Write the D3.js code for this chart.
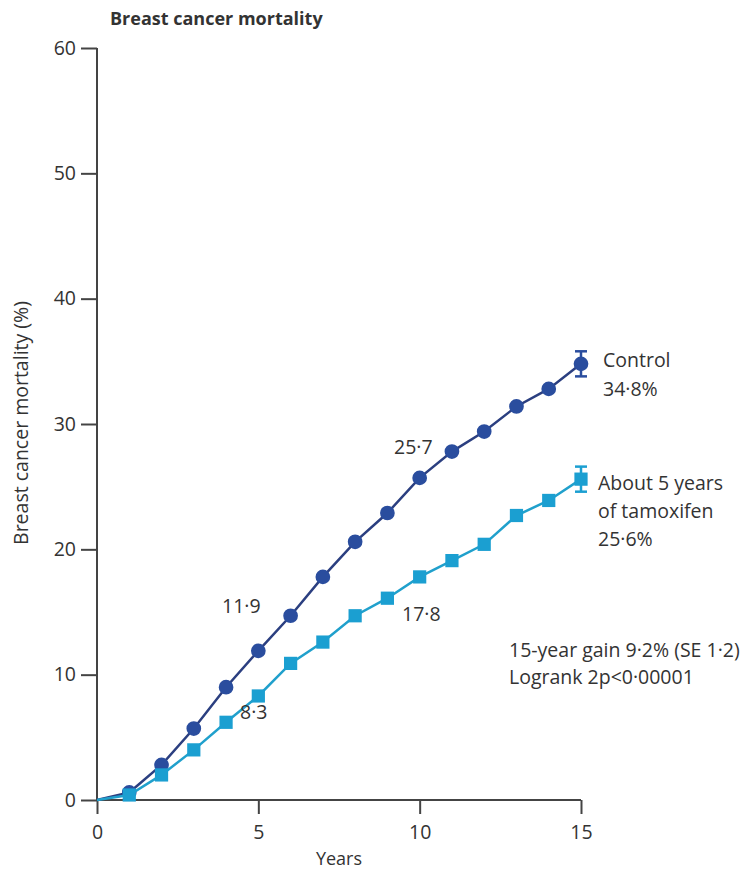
<!DOCTYPE html>
<html>
<head>
    <script type="text/javascript" src="https://d3js.org/d3.v7.min.js"></script>
    <style>
        body { margin: 0; background: #ffffff; }
        text { font-family: "Open Sans", "Noto Sans", sans-serif; fill: #333; }
    </style>
</head>
<body>
    <svg width="751" height="870"></svg>
    <script>
        // values (cumulative % by year)
        const years = d3.range(0, 16);
        const control = [0, 0.6, 2.8, 5.7, 9.0, 11.9, 14.7, 17.8, 20.6, 22.9, 25.7, 27.8, 29.4, 31.4, 32.8, 34.8];
        const tamoxifen = [0, 0.4, 2.0, 4.0, 6.2, 8.3, 10.9, 12.6, 14.7, 16.1, 17.8, 19.1, 20.4, 22.7, 23.9, 25.6];
        const controlSE = 1.0;
        const tamoxifenSE = 1.0;
        const xTicks = [0, 5, 10, 15];
        const yTicks = [0, 10, 20, 30, 40, 50, 60];

        const darkBlue = "#2a4d9e", darkLine = "#2b3f80";
        const lightBlue = "#1b9fd1", lightLine = "#20a0cc";

        const svg = d3.select("svg");
        const x = d3.scaleLinear().domain([0, 15]).range([97, 581]);
        const y = d3.scaleLinear().domain([0, 60]).range([800, 48]);

        // axes
        const yAxis = svg.append("g").attr("transform", "translate(97,0)")
            .call(d3.axisLeft(y).tickValues(yTicks).tickSize(16).tickPadding(5));
        const xAxis = svg.append("g").attr("transform", "translate(0,800)")
            .call(d3.axisBottom(x).tickValues(xTicks).tickSize(14).tickPadding(11));
        [xAxis, yAxis].forEach(a => {
            a.select(".domain").attr("stroke", "#444").attr("stroke-width", 2);
            a.selectAll(".tick line").attr("stroke", "#444").attr("stroke-width", 2);
            a.selectAll(".tick text").style("font-size", "19.5px").attr("fill", "#444");
        });
        yAxis.select(".domain").attr("d", "M0,48V800");
        xAxis.select(".domain").attr("d", "M97,0H581");

        svg.append("text").attr("x", 110).attr("y", 25)
            .style("font-size", "18px").style("font-weight", "bold").attr("fill", "#333")
            .text("Breast cancer mortality");
        svg.append("text").attr("transform", "translate(28,423) rotate(-90)")
            .attr("text-anchor", "middle").style("font-size", "19.5px")
            .text("Breast cancer mortality (%)");
        svg.append("text").attr("x", 339).attr("y", 865).attr("text-anchor", "middle")
            .style("font-size", "18px").text("Years");

        const line = d3.line().x((d, i) => x(years[i])).y(d => y(d));

        function series(vals, se, lineColor, fill, shape, size) {
            const g = svg.append("g");
            g.append("path").datum(vals).attr("d", line)
                .attr("fill", "none").attr("stroke", lineColor).attr("stroke-width", 2.5);
            // error bar at year 15
            const last = vals[vals.length - 1], xe = x(years[years.length - 1]);
            g.append("line").attr("x1", xe).attr("x2", xe)
                .attr("y1", y(last + se)).attr("y2", y(last - se))
                .attr("stroke", fill).attr("stroke-width", 2.5);
            [last + se, last - se].forEach(v => {
                g.append("line").attr("x1", xe - 6).attr("x2", xe + 6)
                    .attr("y1", y(v)).attr("y2", y(v))
                    .attr("stroke", fill).attr("stroke-width", 2.5);
            });
            g.selectAll("path.m").data(vals.slice(1)).enter().append("path")
                .attr("class", "m")
                .attr("transform", (d, i) => `translate(${x(years[i + 1])},${y(d)})`)
                .attr("d", d3.symbol().type(shape).size(size))
                .attr("fill", fill);
        }
        series(control, controlSE, darkLine, darkBlue, d3.symbolCircle, 170);
        series(tamoxifen, tamoxifenSE, lightLine, lightBlue, d3.symbolSquare, 175);

        // annotations
        const notes = [
            ["11·9", 222, 613], ["8·3", 240, 719], ["17·8", 402, 621], ["25·7", 394, 454],
            ["Control", 603, 367], ["34·8%", 603, 396],
            ["About 5 years", 598, 490], ["of tamoxifen", 598, 518], ["25·6%", 598, 546],
            ["15-year gain 9·2% (SE 1·2)", 509, 657], ["Logrank 2p<0·00001", 509, 684]
        ];
        svg.selectAll("text.note").data(notes).enter().append("text")
            .attr("class", "note").attr("x", d => d[1]).attr("y", d => d[2])
            .style("font-size", "19.5px").text(d => d[0]);
    </script>
</body>
</html>
